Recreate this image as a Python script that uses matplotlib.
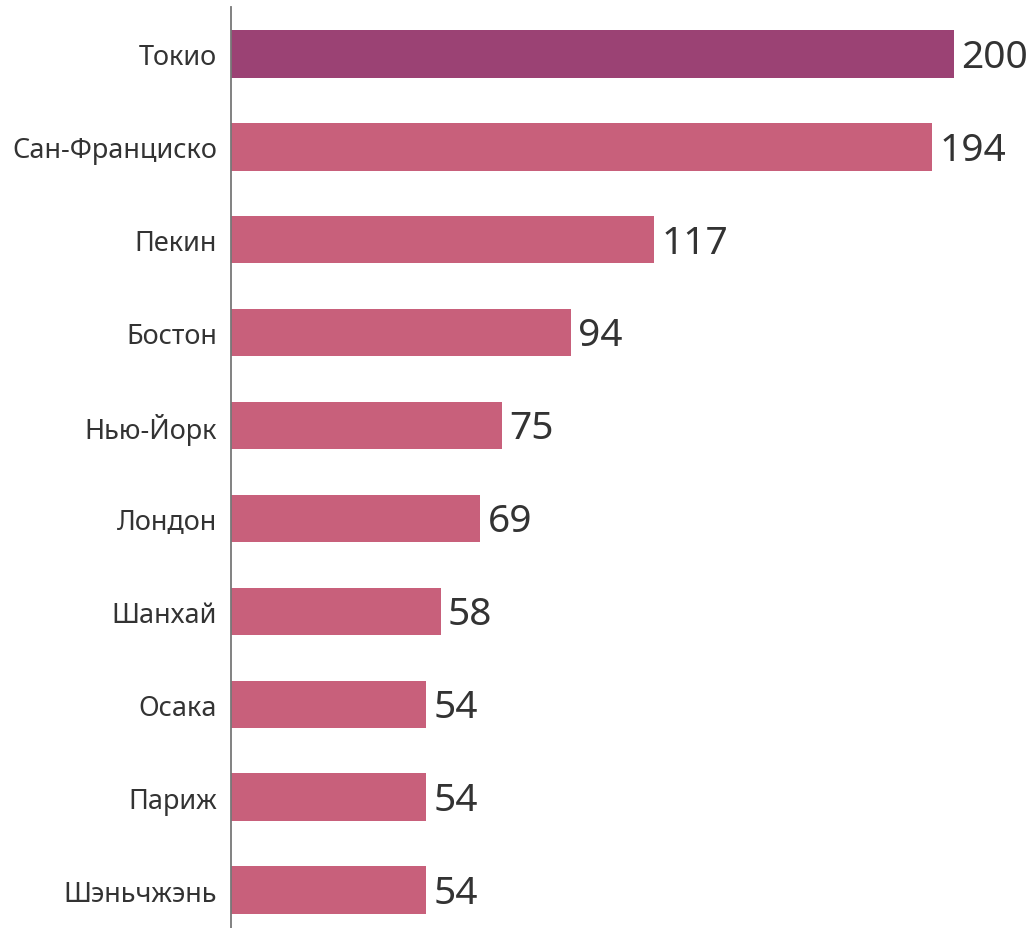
import matplotlib.pyplot as plt

cities = ["Токио", "Сан-Франциско", "Пекин", "Бостон", "Нью-Йорк",
          "Лондон", "Шанхай", "Осака", "Париж", "Шэньчжэнь"]
counts = [200, 194, 117, 94, 75, 69, 58, 54, 54, 54]
colors = ["#9b4274"] + ["#c8607b"] * 9

plt.rcParams['font.family'] = ['Noto Sans', 'DejaVu Sans']

W, H = 1035, 929
fig = plt.figure(figsize=(W / 100, H / 100), dpi=100)
ax = fig.add_axes([231 / W, 0, (W - 231) / W, (H - 8.5) / H])

ypos = list(range(len(cities)))
ax.barh(ypos, counts, height=0.51, color=colors)
for y, v in zip(ypos, counts):
    ax.text(v + 2, y + 0.03, str(v), va='center', ha='left', fontsize=28, color='#333333')

ax.set_yticks(ypos)
ax.set_yticklabels(cities, fontsize=19.5, color='#333333')
ax.tick_params(axis='y', length=0, pad=10)
ax.set_xticks([])
ax.set_xlim(0, (W - 231) / 3.615)
ax.set_ylim(9 + 38 / 93, -0.5)

for s in ['top', 'right', 'bottom']:
    ax.spines[s].set_visible(False)
ax.spines['left'].set_color('#777777')
ax.spines['left'].set_linewidth(1.3)

fig.savefig('out.png', dpi=100)
